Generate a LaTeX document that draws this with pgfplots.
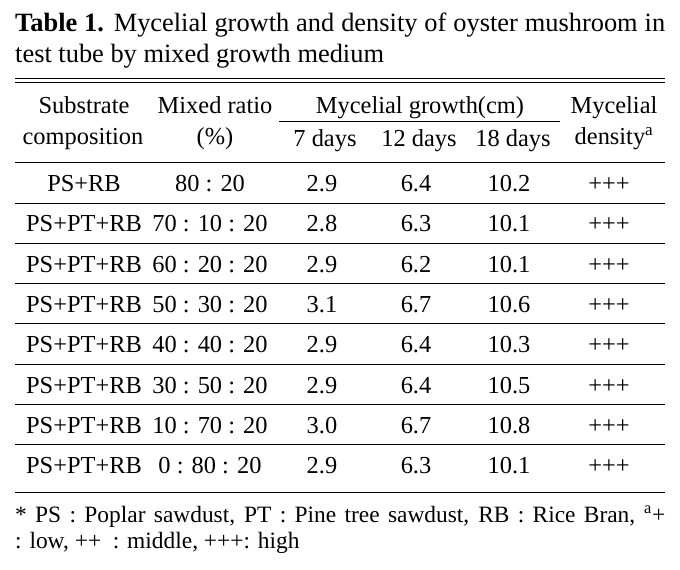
\documentclass[border=0pt]{standalone}
\usepackage{pgfplots}
\usepackage{pgfplotstable}
\pgfplotsset{compat=1.18}
\usepackage{fontspec}
\setmainfont{Liberation Serif}

\pgfplotstableread[col sep=comma]{
r,comp,ratio,d7,d12,d18,dens
0,PS+RB,80 : 20,2.9,6.4,10.2,+++
1,PS+PT+RB,70 : 10 : 20,2.8,6.3,10.1,+++
2,PS+PT+RB,60 : 20 : 20,2.9,6.2,10.1,+++
3,PS+PT+RB,50 : 30 : 20,3.1,6.7,10.6,+++
4,PS+PT+RB,40 : 40 : 20,2.9,6.4,10.3,+++
5,PS+PT+RB,30 : 50 : 20,2.9,6.4,10.5,+++
6,PS+PT+RB,10 : 70 : 20,3.0,6.7,10.8,+++
7,PS+PT+RB,0 : 80 : 20,2.9,6.3,10.1,+++
}\data

\newcommand{\bodyfont}{\fontsize{24.5}{28}\selectfont}

\begin{document}
\begin{tikzpicture}
\begin{axis}[
  width=680bp, height=569bp, scale only axis,
  xmin=0, xmax=680, ymin=0, ymax=569, y dir=reverse,
  axis lines=none, clip=false,
  every node near coord/.append style={anchor=base, inner sep=0pt, text=black, font=\bodyfont},
]
\path[draw=none] (axis cs:0,0) rectangle (axis cs:680,569);
% title
\node[anchor=base west, inner sep=0pt, font=\fontsize{26.5}{31}\selectfont] at (axis cs:15,32)
  {\makebox[650bp][s]{\textbf{Table 1.} Mycelial growth and density of oyster mushroom in}};
\node[anchor=base west, inner sep=0pt, font=\fontsize{26.5}{31}\selectfont] at (axis cs:15,63)
  {test tube by mixed growth medium};
% rules
\draw[line width=1bp] (axis cs:15,78) -- (axis cs:665,78);
\draw[line width=1bp] (axis cs:15,82) -- (axis cs:665,82);
\draw[line width=1bp] (axis cs:279,121) -- (axis cs:560,121);
\foreach \yy in {162,203,243,283,323,364,404,444,492}{
  \edef\temp{\noexpand\draw[line width=1bp] (axis cs:15,\yy) -- (axis cs:665,\yy);}\temp
}
% header
\begin{scope}[every node/.style={anchor=base, inner sep=0pt, font=\bodyfont}]
\node at (axis cs:84,113) {Substrate};
\node at (axis cs:83,144) {composition};
\node at (axis cs:215,113) {Mixed ratio};
\node at (axis cs:215,144) {(\%)};
\node at (axis cs:420,113) {Mycelial growth(cm)};
\node at (axis cs:325,146) {7 days};
\node at (axis cs:419,146) {12 days};
\node at (axis cs:513,146) {18 days};
\node at (axis cs:614,113) {Mycelial};
\node at (axis cs:614,144) {density\textsuperscript{a}};
\end{scope}
% body cells
\addplot[draw=none, mark=none, nodes near coords, point meta=explicit symbolic]
  table[x expr=84, y expr=191.5+40.3*\thisrow{r}, meta=comp] {\data};
\addplot[draw=none, mark=none, nodes near coords, point meta=explicit symbolic]
  table[x expr=210, y expr=191.5+40.3*\thisrow{r}, meta=ratio] {\data};
\addplot[draw=none, mark=none, nodes near coords, point meta=explicit symbolic]
  table[x expr=322, y expr=191.5+40.3*\thisrow{r}, meta=d7] {\data};
\addplot[draw=none, mark=none, nodes near coords, point meta=explicit symbolic]
  table[x expr=416, y expr=191.5+40.3*\thisrow{r}, meta=d12] {\data};
\addplot[draw=none, mark=none, nodes near coords, point meta=explicit symbolic]
  table[x expr=509, y expr=191.5+40.3*\thisrow{r}, meta=d18] {\data};
\addplot[draw=none, mark=none, nodes near coords, point meta=explicit symbolic]
  table[x expr=609, y expr=191.5+40.3*\thisrow{r}, meta=dens] {\data};
% footnote
\node[anchor=base west, inner sep=0pt, font=\fontsize{23.5}{26}\selectfont] at (axis cs:15,522)
  {\makebox[650bp][s]{* PS : Poplar sawdust, PT : Pine tree sawdust, RB : Rice Bran, \textsuperscript{a}+}};
\node[anchor=base west, inner sep=0pt, font=\fontsize{23.5}{26}\selectfont] at (axis cs:15,548)
  {: low, ++\ \ : middle, +++: high};
\end{axis}
\end{tikzpicture}
\end{document}
